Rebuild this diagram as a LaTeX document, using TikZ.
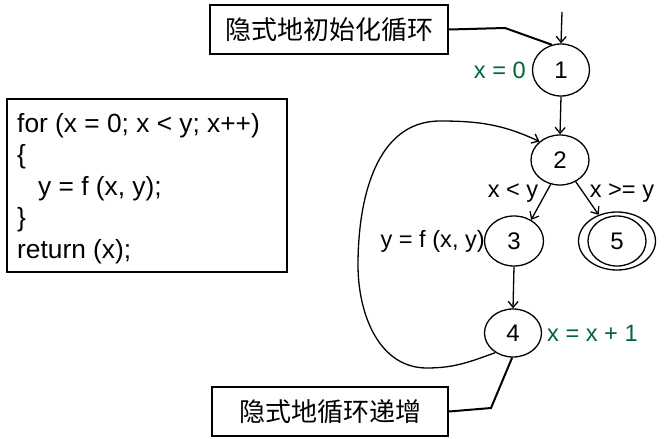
\documentclass[tikz,border=0pt]{standalone}
\usepackage{fontspec}
\setmainfont{Liberation Sans}
\newfontfamily\cjk{Noto Sans CJK SC}
\usetikzlibrary{shapes.geometric,arrows.meta}
\definecolor{lblgreen}{RGB}{0,102,51}
\begin{document}
\begin{tikzpicture}[x=1pt,y=-1pt,
  state/.style={draw,ellipse,line width=1.3pt,inner sep=0pt,font=\fontsize{24}{24}\selectfont},
  lbl/.style={inner sep=0pt,font=\fontsize{23.6}{23.6}\selectfont},
  glbl/.style={lbl,text=lblgreen},
  cbox/.style={draw,line width=2.4pt,inner sep=0pt,font=\cjk\fontsize{26}{26}\selectfont},
  codeline/.style={anchor=base west,inner sep=0pt,font=\fontsize{26.3}{26.3}\selectfont},
  arr/.style={line width=1.3pt,-{Straight Barb[length=6pt,width=10pt]}},
  conn/.style={line width=2pt}]
\useasboundingbox (0,0) rectangle (670,439);
% code box
\node[draw,line width=2.2pt,minimum width=280pt,minimum height=173pt,inner sep=0pt] (codebox) at (147,185.5) {};
\node[codeline] (c1) at (17,132) {for (x = 0; x < y; x++)};
\node[codeline] (c2) at (17,163.5) {\{};
\node[codeline] (c3) at (38,195) {y = f (x, y);};
\node[codeline] (c4) at (17,226.5) {\}};
\node[codeline] (c5) at (17,258) {return (x);};
% callout boxes
\node[cbox,minimum width=238pt,minimum height=49pt] (topbox) at (329,29.5) {隐式地初始化循环};
\node[cbox,minimum width=236pt,minimum height=49pt] (botbox) at (330,411.5) {隐式地循环递增};
% states
\node[state,minimum width=57pt,minimum height=52pt] (1) at (561,70) {1};
\node[state,minimum width=58pt,minimum height=50pt] (2) at (560,160) {2};
\node[state,minimum width=59pt,minimum height=50pt] (3) at (514,241) {3};
\node[state,minimum width=57pt,minimum height=48pt] (4) at (513,333) {4};
\node[state,minimum width=58pt,minimum height=50pt] (5) at (617,241) {5};
\node[draw,ellipse,line width=1.3pt,inner sep=0pt,minimum width=77pt,minimum height=58pt] (5o) at (617,241) {};
% labels
\node[glbl,anchor=east] (l1) at (526,70) {x = 0};
\node[glbl,anchor=west] (l4) at (547,333) {x = x + 1};
\node[lbl,anchor=east] (l3) at (485,241) {y = f (x, y)};
\node[lbl] (lt) at (513,193) {x < y};
\node[lbl] (lf) at (622,193) {x >= y};
% connectors
\coordinate (entry) at (562,12);
\draw[arr] (entry) -- (1.north);
\draw[arr] (1.south) -- (2.north);
\draw[arr] (2.-111) -- (3.51);
\draw[arr] (2.-54) -- (5o.125);
\draw[arr] (3.south) -- (4.north);
\draw[arr] (4.-132) to[out=-160,in=0] (427,368) to[out=180,in=-90] (358,265)
   to[out=90,in=180] (440,121) to[out=0,in=155] (2.138);
\coordinate (tb) at (505,28);
\draw[conn] (topbox.east) -- (tb) -- (1.110);
\coordinate (bb) at (491,408);
\draw[conn] (botbox.east) -- (bb) -- (4.-92);
\end{tikzpicture}
\end{document}
